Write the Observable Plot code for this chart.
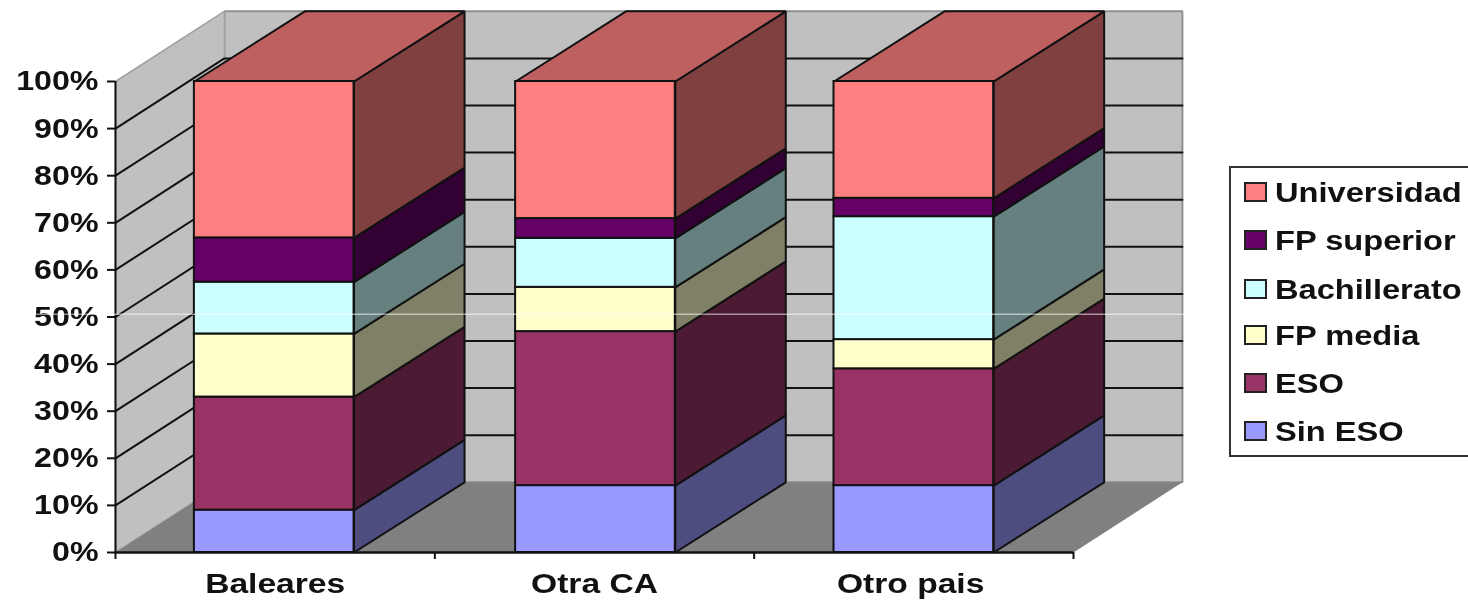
<!DOCTYPE html>
<html>
<head>
<meta charset="utf-8">
<script src="https://cdn.jsdelivr.net/npm/d3@7"></script>
<script src="https://cdn.jsdelivr.net/npm/@observablehq/plot@0.6"></script>
<style>
  html, body { margin: 0; padding: 0; background: #fff; overflow: hidden; }
  #wrap { position: relative; width: 1468px; height: 602px; overflow: hidden; }
  #chart svg { display: block; filter: blur(0.55px); }
  #chart text { font-family: "Liberation Sans", Arial, sans-serif; font-weight: 700; fill: #111; }
  #legend { position: absolute; left: 1229px; top: 166px; width: 260px; height: 287px; border: 2px solid #333; background: #fff; filter: blur(0.55px);
            font: 700 28px "Liberation Sans", Arial, sans-serif; color: #111; }
  .row { position: absolute; left: 13px; height: 30px; line-height: 30px; white-space: nowrap; }
  .sw { position: absolute; left: 0; top: 5px; width: 19px; height: 16px; border: 2px solid #222; }
  .lb { position: absolute; left: 31px; top: 1px; transform: scaleX(1.165); transform-origin: left center; }
</style>
</head>
<body>
<div id="wrap"><div id="chart"></div><div id="legend"></div></div>
<script>
const categories = ["Baleares", "Otra CA", "Otro pais"];
const seriesNames = ["Sin ESO", "ESO", "FP media", "Bachillerato", "FP superior", "Universidad"];
const sinESO       = [9, 14.2, 14.2];
const eso          = [24, 32.7, 24.8];
const fpMedia      = [13.4, 9.4, 6.2];
const bachillerato = [11, 10.4, 26.1];
const fpSuperior   = [9.4, 4.2, 3.9];
const universidad  = [33.2, 29.1, 24.8];
const frontColors = ["#9999FF", "#993366", "#FFFFCC", "#CCFFFF", "#660066", "#FF8080"];
const sideColors  = ["#4D4D80", "#4D1A33", "#808066", "#668080", "#330033", "#804040"];
const topColor = "#BF6060";
const yTicks = [0, 10, 20, 30, 40, 50, 60, 70, 80, 90, 100];
const xTicks = [0, 1, 2, 3];
const labelTicks = [0.5, 1.5, 2.49];
const barCenters = [0.497, 1.503, 2.5];

// Oblique depth of the 3-D box, in data units
const wallDX = 0.341, wallDY = 14.9, barDX = 0.346, barDY = 14.9, barW = 0.5;

const values = [sinESO, eso, fpMedia, bachillerato, fpSuperior, universidad];

// polygons as closed point lists in data space
const poly = (id, pts) => [...pts, pts[0]].map(([x, y]) => ({id, x, y}));
const sides = [], fronts = [], tops = [];
categories.forEach((c, i) => {
  const x0 = barCenters[i] - barW / 2, x1 = barCenters[i] + barW / 2;
  let base = 0;
  values.forEach((v, s) => {
    const top = base + v[i];
    fronts.push({x1: x0, x2: x1, y1: base, y2: top, s});
    sides.push(...poly(`${i}-${s}`, [[x1, base], [x1 + barDX, base + barDY], [x1 + barDX, top + barDY], [x1, top]]).map(p => ({...p, s})));
    base = top;
  });
  tops.push(...poly(`t${i}`, [[x0, 100], [x0 + barDX, 100 + barDY], [x1 + barDX, 100 + barDY], [x1, 100]]));
});

const backWall = poly("b", [[wallDX, wallDY], [wallDX, 100 + wallDY], [3 + wallDX, 100 + wallDY], [3 + wallDX, wallDY]]);
const leftWall = poly("l", [[0, 0], [0, 100], [wallDX, 100 + wallDY], [wallDX, wallDY]]);
const floor = poly("f", [[0, 0], [3, 0], [3 + wallDX, wallDY], [wallDX, wallDY]]);
const grid = yTicks.slice(1, -1).flatMap(v => [
  {id: v, x: 0, y: v}, {id: v, x: wallDX, y: v + wallDY}, {id: v, x: 3 + wallDX, y: v + wallDY}
]);

const polyMark = (data, fill, stroke, strokeWidth) =>
  Plot.line(data, {x: "x", y: "y", z: "id", fill, stroke, strokeWidth, curve: "linear", strokeLinejoin: "miter"});

const chart = Plot.plot({
  width: 1468, height: 602,
  marginLeft: 115, marginRight: 395, marginTop: 81, marginBottom: 50,
  x: {domain: [0, 3], axis: null},
  y: {domain: [0, 100], axis: null},
  marks: [
    polyMark(backWall, "#C0C0C0", "#909090", 2),
    polyMark(leftWall, "#C0C0C0", "#A0A0A0", 1.5),
    polyMark(floor, "#808080", "none", 0),
    Plot.line(grid, {x: "x", y: "y", z: "id", stroke: "#111", strokeWidth: 2}),
    ...frontColors.map((c, s) => polyMark(sides.filter(d => d.s === s), sideColors[s], "#111", 2)),
    polyMark(tops, topColor, "#111", 2),
    ...frontColors.map((c, s) => Plot.rect(fronts.filter(d => d.s === s), {x1: "x1", x2: "x2", y1: "y1", y2: "y2", fill: c, stroke: "#111", strokeWidth: 2})),
    Plot.ruleX([0], {y1: 0, y2: 100, stroke: "#111", strokeWidth: 2}),
    Plot.ruleY([0], {x1: 0, x2: 3, stroke: "#111", strokeWidth: 2.5}),
    Plot.axisY({ticks: yTicks, tickFormat: d => d + "%", tickSize: 8, tickPadding: 9, fontSize: 28, stroke: "#111", strokeWidth: 2, label: null, ariaLabel: "y-axis"}),
    Plot.axisX({ticks: xTicks, tickFormat: () => "", tickSize: 7, stroke: "#111", strokeWidth: 2, label: null}),
    Plot.axisX({ticks: labelTicks, tickFormat: (d, i) => categories[i], tickSize: 0, tickPadding: 21, fontSize: 28, label: null}),
    Plot.ruleY([50.6], {x1: -0.36, x2: 3.49, stroke: "#fff", strokeWidth: 1, strokeOpacity: 0.8})
  ]
});
document.getElementById("chart").appendChild(chart);

// The reference's axis type is stretched sideways: widen each label about its anchor
d3.select(chart).selectAll("text").each(function () {
  const t = this.getAttribute("transform") || "";
  const isX = categories.includes(this.textContent);
  this.setAttribute("transform", `${t} scale(${isX ? 1.2 : 1.15},1)`);
});

// Legend (top to bottom is the reverse stacking order)
const legend = document.getElementById("legend");
const rowTops = [9, 57, 106, 152, 200, 248];
[...seriesNames].reverse().forEach((name, i) => {
  const row = document.createElement("div");
  row.className = "row";
  row.style.top = rowTops[i] + "px";
  const sw = document.createElement("div");
  sw.className = "sw";
  sw.style.background = frontColors[seriesNames.length - 1 - i];
  const lb = document.createElement("div");
  lb.className = "lb";
  lb.textContent = name;
  row.append(sw, lb);
  legend.appendChild(row);
});
</script>
</body>
</html>
